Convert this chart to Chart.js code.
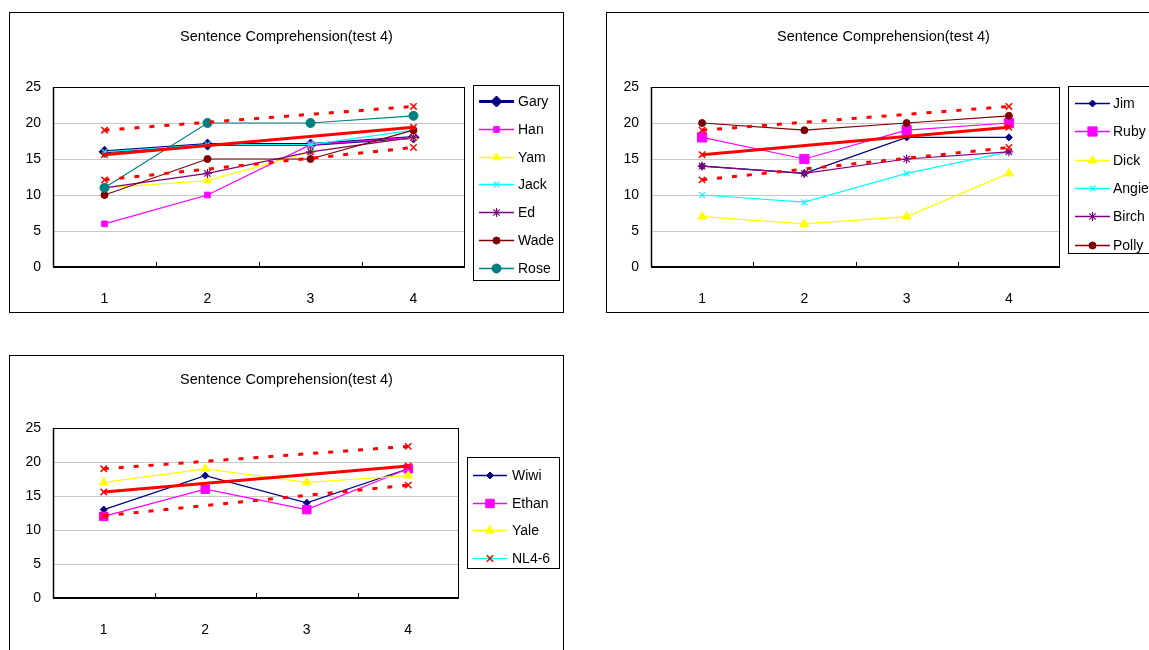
<!DOCTYPE html>
<html>
<head>
<meta charset="utf-8">
<script src="https://cdn.jsdelivr.net/npm/chart.js@4.4.1/dist/chart.umd.min.js"></script>
<style>
  html, body { margin: 0; padding: 0; background: #fff; overflow: hidden; width: 1149px; height: 650px; }
  .box { position: absolute; width: 555px; height: 301px; border: 1px solid #000; box-sizing: border-box; }
  .box canvas { position: absolute; left: -1px; top: -1px; }
</style>
</head>
<body>
<div class="box" style="left:9px;top:12px"><canvas id="c1" width="555" height="301"></canvas></div>
<div class="box" style="left:606px;top:12px"><canvas id="c2" width="555" height="301"></canvas></div>
<div class="box" style="left:9px;top:355px"><canvas id="c3" width="555" height="301"></canvas></div>
<script>
// data
const categories = ['1', '2', '3', '4'];
const titleText = 'Sentence Comprehension(test 4)';
const yMin = 0, yMax = 25, yStep = 5;

// norm band (NL4-6): only the first and last test carry a value
const nlUpper = [19, null, null, 22.3];
const nlMean = [15.6, null, null, 19.4];
const nlLower = [12.1, null, null, 16.6];

// chart 1
const gary = [16, 17, 17, 18];
const han = [6, 10, 17, 18];
const yam = [11, 12, 16, 18];
const jack = [16, 17, 17, 19];
const ed = [11, 13, 16, 18];
const wade = [10, 15, 15, 19];
const rose = [11, 20, 20, 21];

// chart 2
const jim = [14, 13, 18, 18];
const ruby = [18, 15, 19, 20];
const dick = [7, 6, 7, 13];
const angie = [10, 9, 13, 16];
const birch = [14, 13, 15, 16];
const polly = [20, 19, 20, 21];

// chart 3
const wiwi = [13, 18, 14, 19];
const ethan = [12, 16, 13, 19];
const yale = [17, 19, 17, 18];

Chart.defaults.font.family = '"Liberation Sans", Arial, sans-serif';
Chart.defaults.font.size = 14;
Chart.defaults.color = '#000';

const NAVY = '#000080', MAGENTA = '#ff00ff', YELLOW = '#ffff00', CYAN = '#00ffff',
      PURPLE = '#800080', DARKRED = '#800000', TEAL = '#008080', RED = '#ff0000';

function series(label, data, color, style, radius, width) {
  const hollow = style === 'crossRot' || style === 'star';
  return {
    label: label,
    data: data,
    borderColor: color,
    borderWidth: width || 1.2,
    pointStyle: style,
    pointRadius: radius,
    pointBackgroundColor: color,
    pointBorderColor: color,
    pointBorderWidth: hollow ? 1.2 : 1,
    tension: 0,
    inLegend: true
  };
}

function normSets(showLegend) {
  const mk = (label, data, dash) => ({
    label: label,
    data: data,
    borderColor: RED,
    borderWidth: 3,
    borderDash: dash,
    spanGaps: true,
    pointStyle: 'crossRot',
    pointRadius: 4.5,
    pointBackgroundColor: RED,
    pointBorderColor: RED,
    pointBorderWidth: 1.5,
    inLegend: false
  });
  const sets = [mk('NL4-6', nlUpper, [5, 10]), mk('NL mean', nlMean, []), mk('NL low', nlLower, [5, 10])];
  if (showLegend) {
    sets[0].inLegend = true;
    sets[0].legendLine = CYAN;
    sets[0].legendWidth = 1.2;
  }
  return sets;
}

// title, plot frame, x tick marks and boxed legend like the spreadsheet original
const excelLook = {
  id: 'excelLook',
  beforeDatasetsDraw(chart) {
    const { ctx, chartArea: a } = chart;
    const xs = chart.scales.x;
    ctx.save();
    ctx.strokeStyle = '#000';
    ctx.lineWidth = 1;
    ctx.strokeRect(a.left + 0.5, a.top + 0.5, a.right - a.left - 1, a.bottom - a.top);
    ctx.lineWidth = 2;
    ctx.beginPath();
    ctx.moveTo(a.left, a.bottom);
    ctx.lineTo(a.right, a.bottom);
    ctx.stroke();
    ctx.lineWidth = 1.5;
    ctx.beginPath();
    ctx.moveTo(a.left + 0.5, a.top);
    ctx.lineTo(a.left + 0.5, a.bottom);
    ctx.stroke();
    ctx.lineWidth = 1;
    for (let i = 1; i < categories.length; i++) {
      const x = Math.round((xs.getPixelForValue(i - 1) + xs.getPixelForValue(i)) / 2) + 0.5;
      ctx.beginPath();
      ctx.moveTo(x, a.bottom);
      ctx.lineTo(x, a.bottom - 5);
      ctx.stroke();
    }
    ctx.restore();
  },
  afterDraw(chart, args, o) {
    const ctx = chart.ctx;
    ctx.save();
    ctx.fillStyle = '#000';
    ctx.font = '14.5px "Liberation Sans", Arial, sans-serif';
    ctx.textAlign = 'center';
    ctx.textBaseline = 'middle';
    ctx.fillText(titleText, chart.width / 2, 24.5);

    const L = o.legend;
    ctx.font = '14px "Liberation Sans", Arial, sans-serif';
    ctx.fillStyle = '#fff';
    ctx.fillRect(L.x, L.y, L.w, L.h);
    ctx.strokeStyle = '#000';
    ctx.lineWidth = 1;
    ctx.strokeRect(L.x + 0.5, L.y + 0.5, L.w, L.h);
    let k = 0;
    chart.data.datasets.forEach(ds => {
      if (!ds.inLegend) return;
      const y = Math.round(L.row0 + k * L.step) + 0.5;
      k++;
      ctx.setLineDash([]);
      ctx.strokeStyle = ds.legendLine || ds.borderColor;
      ctx.lineWidth = ds.legendWidth || Math.max(ds.borderWidth, 1.5);
      ctx.beginPath();
      ctx.moveTo(L.x0, y);
      ctx.lineTo(L.x1, y);
      ctx.stroke();
      ctx.fillStyle = ds.pointBackgroundColor;
      ctx.strokeStyle = ds.pointBorderColor;
      ctx.lineWidth = ds.pointBorderWidth;
      const cx = (L.x0 + L.x1) / 2;
      if (Chart.helpers && Chart.helpers.drawPoint) {
        Chart.helpers.drawPoint(ctx, { pointStyle: ds.pointStyle, radius: ds.pointRadius, rotation: 0, borderWidth: ds.pointBorderWidth }, cx, y);
      } else {
        ctx.beginPath();
        ctx.arc(cx, y, ds.pointRadius, 0, Math.PI * 2);
        ctx.fill();
      }
      ctx.fillStyle = '#000';
      ctx.textAlign = 'left';
      ctx.fillText(ds.label, L.tx, y + 1);
    });
    ctx.restore();
  }
};

function makeChart(id, sets, g) {
  sets.forEach((ds, i) => { ds.order = -i; });
  return new Chart(document.getElementById(id), {
    type: 'line',
    data: { labels: categories, datasets: sets },
    options: {
      responsive: false,
      animation: false,
      events: [],
      layout: { padding: { left: 0, top: g.top, right: g.right, bottom: 0 } },
      scales: {
        x: {
          type: 'category',
          offset: true,
          grid: { display: false, drawTicks: false },
          border: { display: false },
          ticks: { padding: 24, color: '#000' },
          afterFit(scale) { scale.height = g.xh; }
        },
        y: {
          min: yMin,
          max: yMax,
          grid: { color: '#c8c8c8', lineWidth: 1, drawTicks: false },
          border: { display: false },
          ticks: { stepSize: yStep, padding: 12, color: '#000' },
          afterFit(scale) { scale.width = g.yw; }
        }
      },
      plugins: {
        legend: { display: false },
        tooltip: { enabled: false },
        excelLook: { legend: g.legend }
      }
    },
    plugins: [excelLook]
  });
}

makeChart('c1', [
  series('Gary', gary, NAVY, 'rectRot', 5.5, 3),
  series('Han', han, MAGENTA, 'rect', 4),
  series('Yam', yam, YELLOW, 'triangle', 4.5),
  series('Jack', jack, CYAN, 'crossRot', 4),
  series('Ed', ed, PURPLE, 'star', 4.5),
  series('Wade', wade, DARKRED, 'circle', 3.5),
  series('Rose', rose, TEAL, 'circle', 4.5)
].concat(normSets(false)), {
  top: 75, right: 99, xh: 46, yw: 44,
  legend: { x: 464, y: 73, w: 86, h: 195, row0: 89, step: 27.8, x0: 470, x1: 505, tx: 509 }
});

makeChart('c2', [
  series('Jim', jim, NAVY, 'rectRot', 3.5),
  series('Ruby', ruby, MAGENTA, 'rect', 6.5),
  series('Dick', dick, YELLOW, 'triangle', 5),
  series('Angie', angie, CYAN, 'crossRot', 4),
  series('Birch', birch, PURPLE, 'star', 4.5),
  series('Polly', polly, DARKRED, 'circle', 3.5)
].concat(normSets(false)), {
  top: 75, right: 101, xh: 46, yw: 45,
  legend: { x: 462, y: 74, w: 92, h: 167, row0: 91, step: 28.3, x0: 469, x1: 504, tx: 507 }
});

makeChart('c3', [
  series('Wiwi', wiwi, NAVY, 'rectRot', 3.5),
  series('Ethan', ethan, MAGENTA, 'rect', 6),
  series('Yale', yale, YELLOW, 'triangle', 5)
].concat(normSets(true)), {
  top: 73, right: 105, xh: 58, yw: 44,
  legend: { x: 458, y: 102, w: 92, h: 111, row0: 120, step: 27.7, x0: 464, x1: 498, tx: 503 }
});
</script>
</body>
</html>
